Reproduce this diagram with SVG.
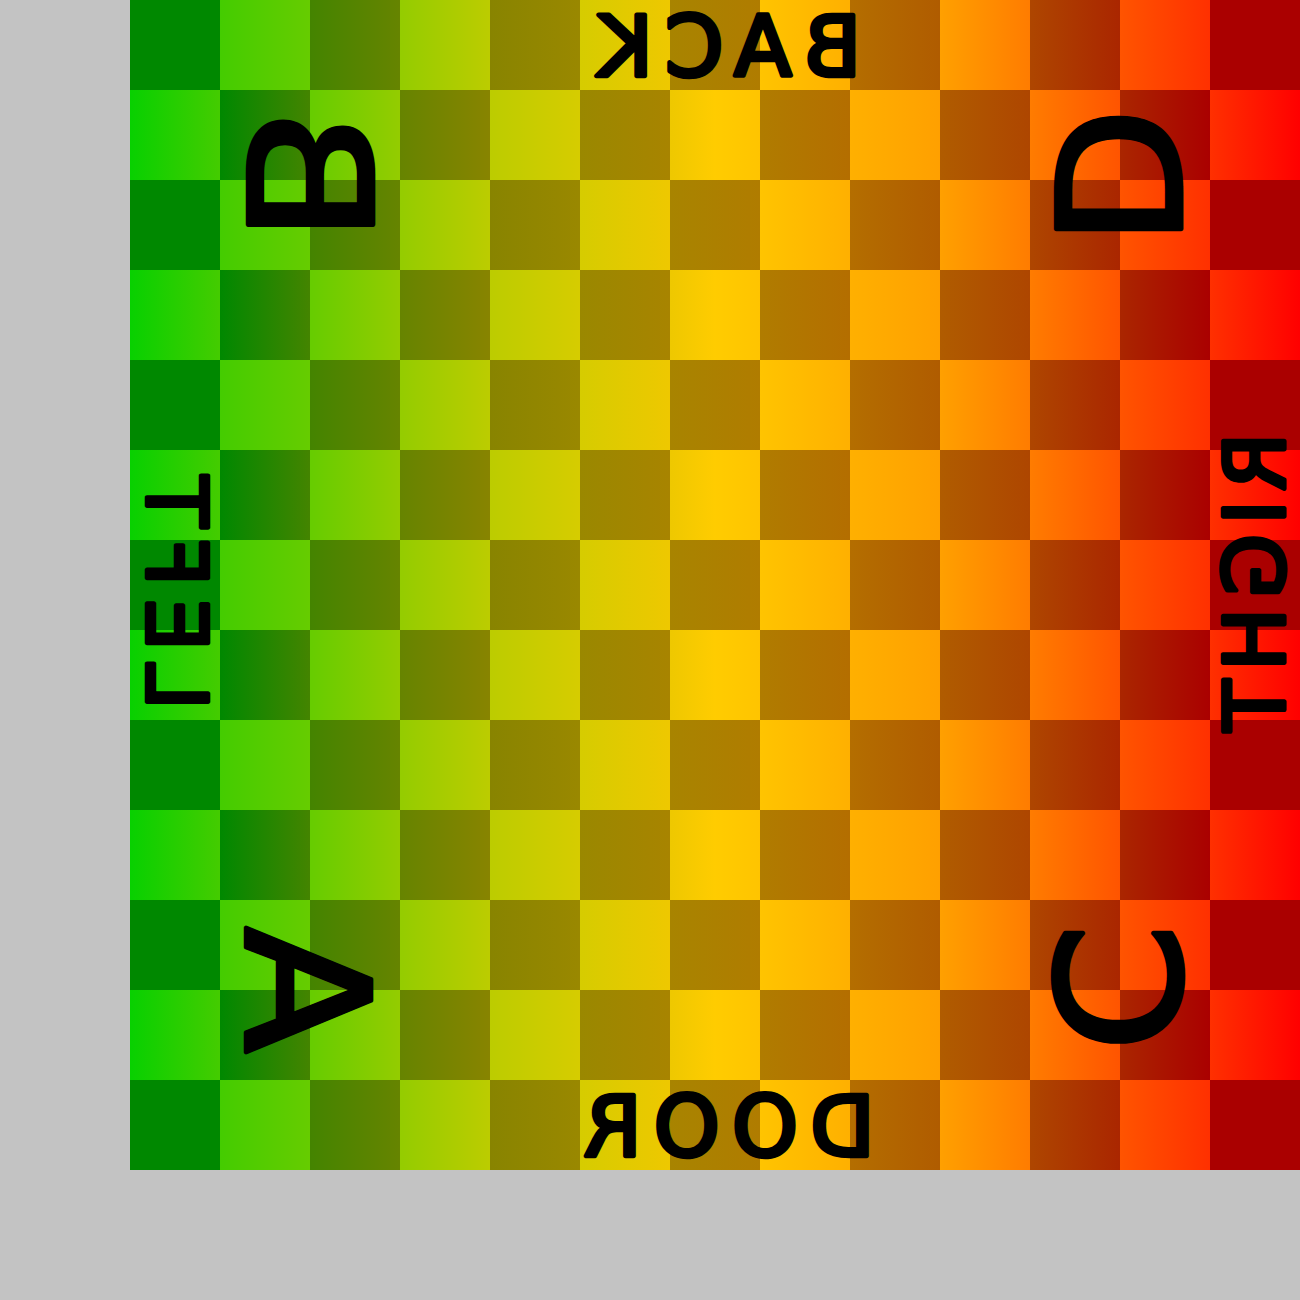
<svg xmlns="http://www.w3.org/2000/svg" width="1300" height="1300" viewBox="0 0 1300 1300">
  <style>
    .lbl { font-family: "DejaVu Sans", "Liberation Sans", sans-serif; fill: #000; stroke: #000; stroke-width: 4.5; stroke-linejoin: round; text-anchor: middle; }
    .sm { font-size: 84px; letter-spacing: 12px; }
    .big { font-size: 172px; }
  </style>
  <defs>
    <linearGradient id="light" gradientUnits="userSpaceOnUse" x1="130" y1="0" x2="1300" y2="0">
      <stop offset="0" stop-color="#08d000"/>
      <stop offset="0.0769" stop-color="#44cc00"/>
      <stop offset="0.1538" stop-color="#66cc00"/>
      <stop offset="0.2308" stop-color="#94cc00"/>
      <stop offset="0.3077" stop-color="#bccc00"/>
      <stop offset="0.3846" stop-color="#d6cc00"/>
      <stop offset="0.4615" stop-color="#eec800"/>
      <stop offset="0.5" stop-color="#ffcc00"/>
      <stop offset="0.5385" stop-color="#ffc400"/>
      <stop offset="0.6154" stop-color="#ffb000"/>
      <stop offset="0.6923" stop-color="#ffa000"/>
      <stop offset="0.7692" stop-color="#ff7c00"/>
      <stop offset="0.8462" stop-color="#ff5400"/>
      <stop offset="0.9231" stop-color="#ff3000"/>
      <stop offset="1" stop-color="#ff0000"/>
    </linearGradient>
    <linearGradient id="dark" gradientUnits="userSpaceOnUse" x1="130" y1="0" x2="1300" y2="0">
      <stop offset="0" stop-color="#008800"/>
      <stop offset="0.0769" stop-color="#008800"/>
      <stop offset="0.1538" stop-color="#448400"/>
      <stop offset="0.2308" stop-color="#668400"/>
      <stop offset="0.3077" stop-color="#888400"/>
      <stop offset="0.3846" stop-color="#9a8800"/>
      <stop offset="0.4615" stop-color="#a88400"/>
      <stop offset="0.5385" stop-color="#b07c00"/>
      <stop offset="0.6154" stop-color="#b46e00"/>
      <stop offset="0.6923" stop-color="#b05c00"/>
      <stop offset="0.7692" stop-color="#ae4600"/>
      <stop offset="0.8462" stop-color="#aa2600"/>
      <stop offset="0.9231" stop-color="#aa0000"/>
      <stop offset="1" stop-color="#aa0000"/>
    </linearGradient>
    <pattern id="checker" patternUnits="userSpaceOnUse" x="130" y="0" width="180" height="180">
      <rect x="0" y="0" width="90" height="90" fill="#fff"/>
      <rect x="90" y="90" width="90" height="90" fill="#fff"/>
    </pattern>
    <mask id="darkCells" maskUnits="userSpaceOnUse" x="130" y="0" width="1170" height="1170">
      <rect x="130" y="0" width="1170" height="1170" fill="url(#checker)"/>
    </mask>
  </defs>
  <rect id="background" x="0" y="0" width="1300" height="1300" fill="#c3c3c3"/>
  <g id="board">
    <rect x="130" y="0" width="1170" height="1170" fill="url(#light)"/>
    <rect x="130" y="0" width="1170" height="1170" fill="url(#dark)" mask="url(#darkCells)"/>
  </g>
  <g id="side-labels">
    <text id="back" class="lbl sm" transform="matrix(-1,0,0,1,723.5,76)">BACK</text>
    <text id="door" class="lbl sm" transform="matrix(-1,0,0,1,723,1156)">DOOR</text>
    <text id="left" class="lbl sm" transform="matrix(0,-1,-1,0,146.5,587)">LEFT</text>
    <text id="right" class="lbl sm" style="letter-spacing:9px" transform="matrix(0,1,1,0,1284,586.5)">RIGHT</text>
  </g>
  <g id="corner-labels">
    <text id="corner-b" class="lbl big" transform="matrix(0,-1.15,-1,0,248,176)">B</text>
    <text id="corner-a" class="lbl big" transform="matrix(0,-1.08,-1,0,245.5,990)">A</text>
    <text id="corner-d" class="lbl big" transform="matrix(0,-1.05,-1,0,1055.5,177)">D</text>
    <text id="corner-c" class="lbl big" transform="matrix(0,-1.07,-1,0,1054.5,987.5)">C</text>
  </g>
</svg>
